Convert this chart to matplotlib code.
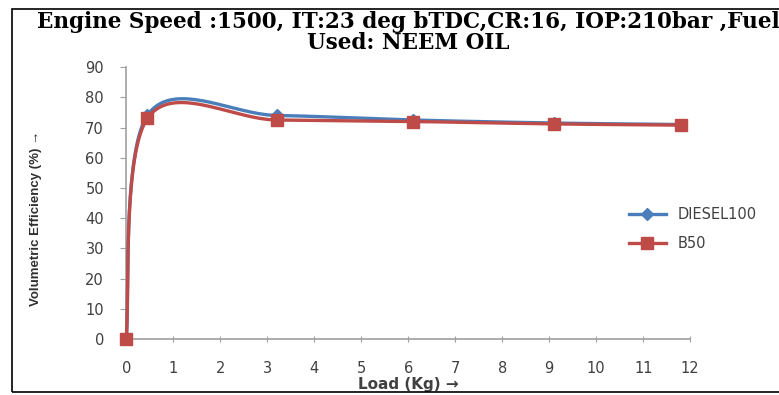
import matplotlib
matplotlib.use('Agg')
import matplotlib.pyplot as plt
from matplotlib.patches import Rectangle
import numpy as np

load = [0, 0.45, 3.2, 6.1, 9.1, 11.8]
diesel100 = [0, 74, 74, 72.5, 71.5, 71]
b50 = [0, 73, 72.5, 72, 71.2, 70.8]
yticks = [0, 10, 20, 30, 40, 50, 60, 70, 80, 90]
xticks = list(range(0, 13))


def excel_smooth(x, y, n=40):
    # bezier smoothing like the spreadsheet "smoothed line" option
    p = np.column_stack([x, y]).astype(float)
    out = []
    for i in range(len(p) - 1):
        p0 = p[i - 1] if i > 0 else p[i]
        p1 = p[i]
        p2 = p[i + 1]
        p3 = p[i + 2] if i + 2 < len(p) else p[i + 1]
        c1 = p1 + (p2 - p0) / 6
        c2 = p2 - (p3 - p1) / 6
        t = np.linspace(0, 1, n)[:, None]
        seg = (1 - t)**3 * p1 + 3 * (1 - t)**2 * t * c1 + 3 * (1 - t) * t**2 * c2 + t**3 * p2
        out.append(seg if i == 0 else seg[1:])
    s = np.vstack(out)
    return s[:, 0], s[:, 1]


fig = plt.figure(figsize=(7.79, 3.95), dpi=100)
ax = fig.add_axes([0.162, 0.142, 0.724, 0.688])

blue = '#4a7ebb'
red = '#be4b48'

sx, sy = excel_smooth(load, diesel100)
ax.plot(sx, sy, color=blue, lw=2.4, zorder=3, clip_on=False)
ax.plot(load, diesel100, ls='none', marker='D', ms=6, color=blue, zorder=4, clip_on=False)
rx, ry = excel_smooth(load, b50)
ax.plot(rx, ry, color=red, lw=2.4, zorder=3, clip_on=False)
ax.plot(load, b50, ls='none', marker='s', ms=9, color=red, zorder=5, clip_on=False)

# legend proxies
ax.plot([], [], color=blue, lw=2.4, marker='D', ms=6, label='DIESEL100')
ax.plot([], [], color=red, lw=2.4, marker='s', ms=9, label='B50')

ax.set_xlim(0, 12)
ax.set_ylim(0, 90)
ax.set_xticks(xticks)
ax.set_yticks(yticks)
for s in ['top', 'right']:
    ax.spines[s].set_visible(False)
for s in ['left', 'bottom']:
    ax.spines[s].set_color('#a0a0a0')
    ax.spines[s].set_linewidth(1.2)
ax.tick_params(colors='#a0a0a0', labelcolor='#404040', labelsize=10.5, length=4)
ax.tick_params(axis='y', direction='out', pad=12)
ax.tick_params(axis='x', direction='inout', pad=14)

ax.set_xlabel('Load (Kg) →', fontsize=11, fontweight='bold', color='#404040', labelpad=0)
ax.xaxis.set_label_coords(0.5, -0.14)
ax.set_ylabel('Volumetric Efficiency (%) →', fontsize=9.5, family='Liberation Sans',
              fontweight='bold', color='#303030')
ax.yaxis.set_label_coords(-0.149, 0.445)

fig.legend(loc='center left', bbox_to_anchor=(0.79, 0.42), frameon=False, fontsize=10.5,
           handlelength=2.6, labelspacing=1.0, labelcolor='#404040')

fig.text(0.524, 0.945, 'Engine Speed :1500, IT:23 deg bTDC,CR:16, IOP:210bar ,Fuel',
         ha='center', va='center', fontsize=15.5, fontweight='bold', family='DejaVu Serif')
fig.text(0.524, 0.891, 'Used: NEEM OIL',
         ha='center', va='center', fontsize=15.5, fontweight='bold', family='DejaVu Serif')

fig.patches.append(Rectangle((12 / 779, 3 / 395), 1.2, 1 - 12 / 395, transform=fig.transFigure,
                             fill=False, edgecolor='black', lw=1.2))

fig.savefig('out.png', dpi=100)
